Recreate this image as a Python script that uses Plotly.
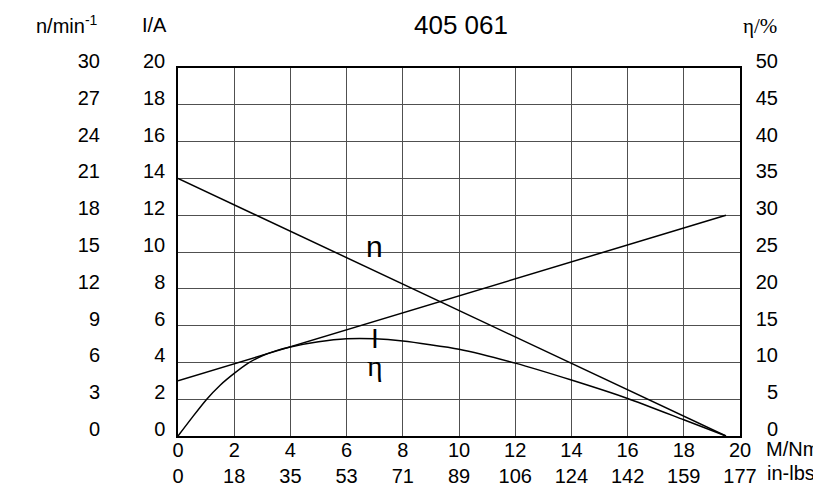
import plotly.graph_objects as go

# ---- data ----
torque_ticks = [0, 2, 4, 6, 8, 10, 12, 14, 16, 18, 20]
inlbs_ticks = [0, 18, 35, 53, 71, 89, 106, 124, 142, 159, 177]
current_ticks = [0, 2, 4, 6, 8, 10, 12, 14, 16, 18, 20]
speed_ticks = [0, 3, 6, 9, 12, 15, 18, 21, 24, 27, 30]
eff_ticks = [0, 5, 10, 15, 20, 25, 30, 35, 40, 45, 50]

speed_M = [0, 19.5]
speed_n = [21, 0]
current_M = [0, 19.5]
current_I = [3, 12]
eff_M = [0, 0.5, 1, 1.5, 2, 2.5, 3, 3.5, 4, 5, 6, 7, 8, 10, 12, 14, 16, 18, 19.5]
eff_pct = [0, 2.5, 4.9, 6.9, 8.5, 9.9, 10.9, 11.6, 12.1, 12.8, 13.2, 13.2, 12.9, 11.8, 9.9, 7.6, 5.1, 2.2, 0]

W, H = 821, 499
OFF = 8  # page offset of the figure inside the browser
ML, MR = 5, 5
MT = 68 - OFF
MB = H - (436 - OFF)
PW = W - ML - MR
PH = H - MT - MB
def px(x):
    return (x - OFF - ML) / PW
def py(y):
    return (H - MB - (y - OFF)) / PH

SANS = "Liberation Sans, Arial, sans-serif"
SERIF = "Liberation Serif, Times New Roman, serif"
FS = 20
GRID = "#505050"

fig = go.Figure()
line = dict(color="black", width=1.5)
fig.add_trace(go.Scatter(x=speed_M, y=speed_n, yaxis="y2", mode="lines", line=line, hoverinfo="skip"))
fig.add_trace(go.Scatter(x=current_M, y=current_I, yaxis="y", mode="lines", line=line, hoverinfo="skip"))
fig.add_trace(go.Scatter(x=eff_M, y=eff_pct, yaxis="y3", mode="lines",
                         line=dict(color="black", width=1.5, shape="spline", smoothing=0.6), hoverinfo="skip"))

fig.update_layout(
    template="none",
    width=W, height=H,
    margin=dict(l=ML, r=MR, t=MT, b=MB, pad=0),
    paper_bgcolor="white", plot_bgcolor="white",
    showlegend=False,
    font=dict(family=SANS, size=FS, color="black"),
    xaxis=dict(
        domain=[px(178), px(740)], range=[0, 20], automargin=False,
        tickvals=torque_ticks,
        ticktext=[f"{a}<br>{b}" for a, b in zip(torque_ticks, inlbs_ticks)],
        showgrid=True, gridcolor=GRID, gridwidth=1,
        showline=True, mirror=True, linecolor="black", linewidth=1.5,
        ticks="", zeroline=False, ticklabelstandoff=-5,
    ),
    yaxis=dict(
        range=[0, 20], tickvals=current_ticks, automargin=False,
        showgrid=True, gridcolor=GRID, gridwidth=1,
        showline=True, mirror=True, linecolor="black", linewidth=1.5,
        ticks="", zeroline=False, ticklabelstandoff=7, ticklabelshift=-7,
    ),
    yaxis2=dict(
        range=[0, 30], tickvals=speed_ticks, overlaying="y", anchor="free", automargin=False,
        position=px(100), side="left", showgrid=False, showline=False,
        ticks="", zeroline=False, ticklabelshift=-7,
    ),
    yaxis3=dict(
        range=[0, 50], tickvals=eff_ticks, overlaying="y", anchor="free", automargin=False,
        position=px(778), side="left", showgrid=False, showline=False,
        ticks="", zeroline=False, ticklabelshift=-7,
    ),
)

ann = [
    dict(text="405 061", x=461, y=OFF, size=26, yanchor="top"),
    dict(text="n/min<sup>-1</sup>", x=67, y=25),
    dict(text="I/A", x=154, y=25),
    dict(text="η/%", x=760, y=26, family=SERIF, size=21),
    dict(text="M/Nm", x=764, y=449, xanchor="left"),
    dict(text="in-lbs", x=765, y=473, xanchor="left"),
]
annotations = []
for a in ann:
    annotations.append(dict(
        xref="paper", yref="paper", showarrow=False,
        xanchor=a.get("xanchor", "center"), yanchor=a.get("yanchor", "middle"),
        text=a["text"], x=px(a["x"]), y=py(a["y"]),
        font=dict(family=a.get("family", SANS), size=a.get("size", FS), color="black"),
    ))

# curve labels in data coordinates
annotations += [
    dict(x=7.0, y=10.3, xref="x", yref="y", text="n", showarrow=False, font=dict(family=SANS, size=30, color="black")),
    dict(x=7.0, y=5.3, xref="x", yref="y", text="I", showarrow=False, font=dict(family=SANS, size=28, color="black")),
    dict(x=7.0, y=3.85, xref="x", yref="y", text="η", showarrow=False, font=dict(family=SERIF, size=30, color="black")),
]
fig.update_layout(annotations=annotations)

fig.write_html("out.html")
